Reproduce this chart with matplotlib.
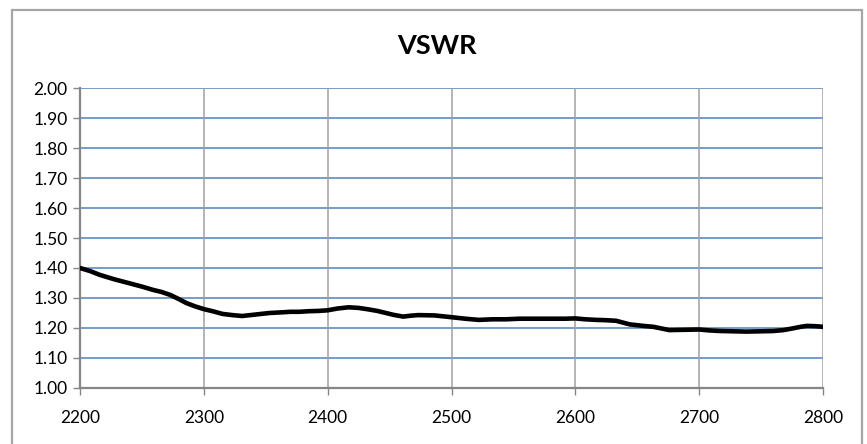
import numpy as np
import matplotlib.pyplot as plt
from matplotlib.patches import Rectangle

# frecuencia (MHz) y VSWR
freq = [2200, 2208, 2216, 2228, 2240, 2250, 2259, 2266, 2273, 2280, 2286,
        2293, 2300, 2308, 2315, 2323, 2331, 2342, 2353, 2362, 2370, 2377,
        2385, 2393, 2400, 2408, 2417, 2425, 2433, 2440, 2446, 2453, 2461,
        2467, 2473, 2486, 2500, 2511, 2522, 2533, 2544, 2555, 2566, 2580,
        2592, 2600, 2608, 2617, 2625, 2633, 2644, 2655, 2663, 2670, 2676,
        2688, 2700, 2708, 2717, 2728, 2738, 2750, 2760, 2768, 2776, 2782,
        2787, 2794, 2800]
vswr = [1.400, 1.390, 1.377, 1.362, 1.349, 1.338, 1.327, 1.320, 1.310,
        1.296, 1.283, 1.272, 1.263, 1.255, 1.247, 1.243, 1.240, 1.245,
        1.250, 1.252, 1.254, 1.254, 1.256, 1.257, 1.259, 1.265, 1.269,
        1.267, 1.262, 1.257, 1.251, 1.244, 1.238, 1.241, 1.243, 1.242,
        1.236, 1.231, 1.227, 1.229, 1.229, 1.231, 1.231, 1.231, 1.231,
        1.232, 1.229, 1.227, 1.226, 1.224, 1.212, 1.207, 1.204, 1.198,
        1.193, 1.194, 1.195, 1.192, 1.190, 1.189, 1.188, 1.189, 1.190,
        1.193, 1.199, 1.204, 1.207, 1.206, 1.204]

x_ticks = [2200, 2300, 2400, 2500, 2600, 2700, 2800]
y_ticks = [1.00, 1.10, 1.20, 1.30, 1.40, 1.50, 1.60, 1.70, 1.80, 1.90, 2.00]


def grafico_vswr():
    plt.rcParams['font.family'] = ['Lato', 'DejaVu Sans']
    fig = plt.figure(figsize=(8.67, 4.44), dpi=100)
    ax = fig.add_axes([80 / 867, 1 - 388 / 444, 743 / 867, 300 / 444])

    # marco exterior del grafico
    fig.patches.append(Rectangle((12 / 867, -0.2), 850 / 867, 0.2 + 1 - 10 / 444,
                                 transform=fig.transFigure, fill=False,
                                 edgecolor='#a6a6a6', lw=1.6))

    ax.set_xlim(2200, 2800)
    ax.set_ylim(1.0, 2.0)
    ax.set_xticks(x_ticks)
    ax.set_xticklabels([str(t) for t in x_ticks])
    ax.set_yticks(y_ticks)
    ax.set_yticklabels(['%.2f' % t for t in y_ticks])

    for t in y_ticks[1:]:
        ax.axhline(t, color='#4f81bd', lw=1.1, zorder=1)
    for t in x_ticks[1:]:
        ax.axvline(t, color='#a0a0a0', lw=1.1, zorder=1)

    ax.plot(freq, vswr, c='black', lw=3.3, zorder=3, solid_capstyle='round')

    for side in ['top', 'right']:
        ax.spines[side].set_visible(False)
    for side in ['left', 'bottom']:
        ax.spines[side].set_color('#868686')
        ax.spines[side].set_linewidth(1.6)
        ax.spines[side].set_zorder(2)

    ax.tick_params(axis='both', colors='#868686', length=5, width=1,
                   labelcolor='black', labelsize=12.5)
    ax.tick_params(axis='x', pad=11)
    ax.tick_params(axis='y', pad=4)

    fig.text(0.504, 0.896, 'VSWR', ha='center', va='center',
             fontsize=19.5, fontweight='bold')

    fig.savefig('out.png', dpi=100)


if __name__ == '__main__':
    grafico_vswr()
